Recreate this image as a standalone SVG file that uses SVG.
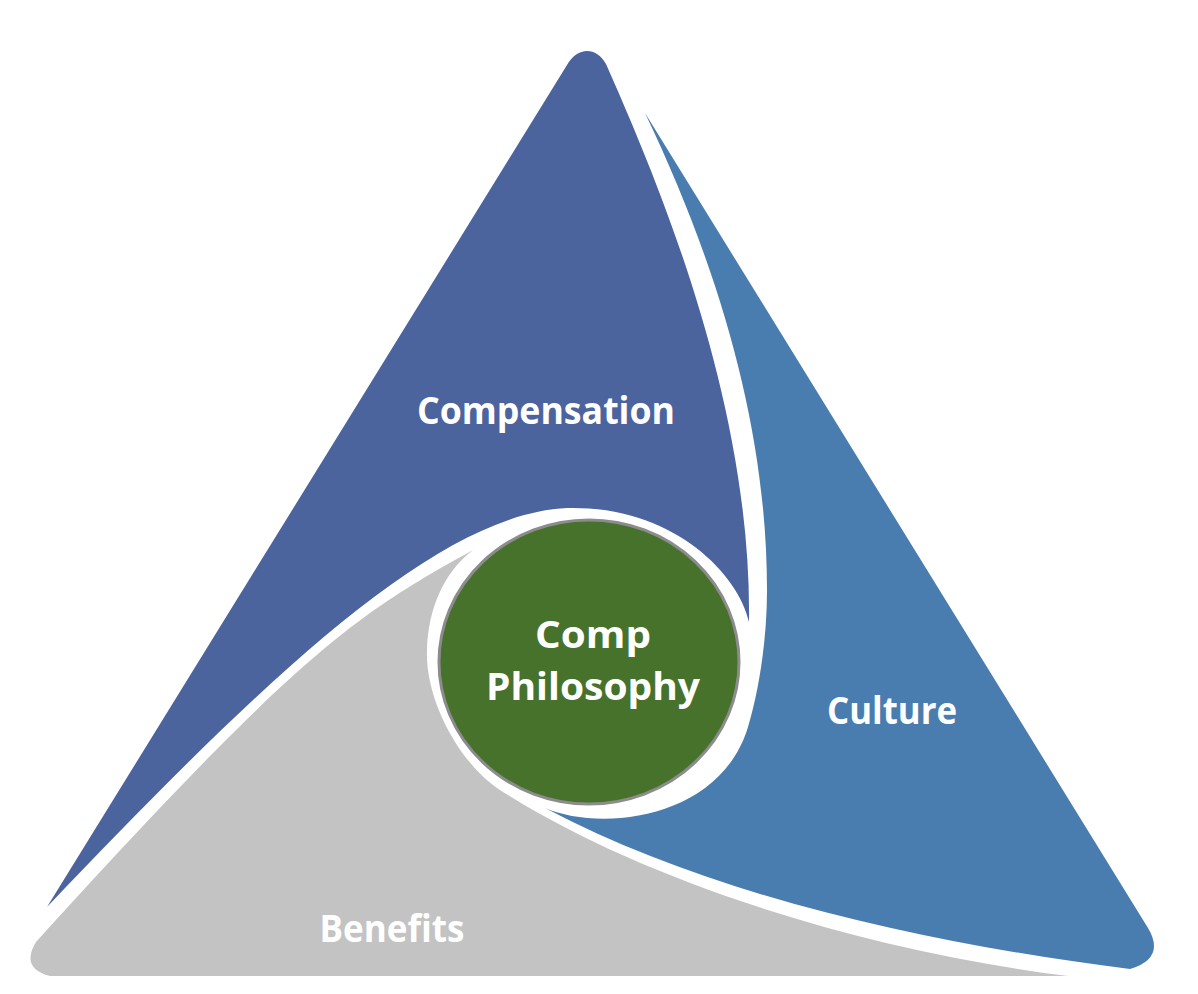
<svg xmlns="http://www.w3.org/2000/svg" width="1198" height="994" viewBox="0 0 1198 994">
<style>
.lbl{font-family:"Open Sans","Liberation Sans",sans-serif;font-weight:700;fill:#ffffff;text-anchor:middle;font-size:37px}
</style>
<rect width="1198" height="994" fill="#ffffff"/>
<g id="benefits">
<path d="M50,976 L1068,976 C860,950 640,880 500,790 C460,764 425,700 427,650 C428,610 443,573 473,550 C353,616 296,656 36,942 Q20,968 50,976 Z" fill="#C3C3C3"/>
<text class="lbl" x="392" y="942" textLength="145" lengthAdjust="spacingAndGlyphs">Benefits</text>
</g>
<g id="compensation">
<path d="M47,907 L567,65 C577,47 596,46 606,64 C655,175 752,400 749,622 C738,572 670,505 567,508 C437,514 267,676 47,907 Z" fill="#4B649E"/>
<text class="lbl" x="546" y="424" textLength="258" lengthAdjust="spacingAndGlyphs">Compensation</text>
</g>
<g id="culture">
<path d="M645,113 L1148,928 Q1166,958 1130,969 C940,945 720,900 545,808 C600,832 720,820 748,727 C759,690 767,640 767,590 C767,430 720,270 645,113 Z" fill="#4A7DAF"/>
<text class="lbl" x="892" y="724" textLength="130" lengthAdjust="spacingAndGlyphs">Culture</text>
</g>
<g id="comp-philosophy">
<ellipse cx="589" cy="662" rx="150" ry="142" fill="#46722C" stroke="#8C8C8C" stroke-width="3"/>
<text class="lbl" x="593" y="648" textLength="116" lengthAdjust="spacingAndGlyphs">Comp</text>
<text class="lbl" x="593" y="700" textLength="214" lengthAdjust="spacingAndGlyphs">Philosophy</text>
</g>
<g id="connectors"></g>
</svg>
